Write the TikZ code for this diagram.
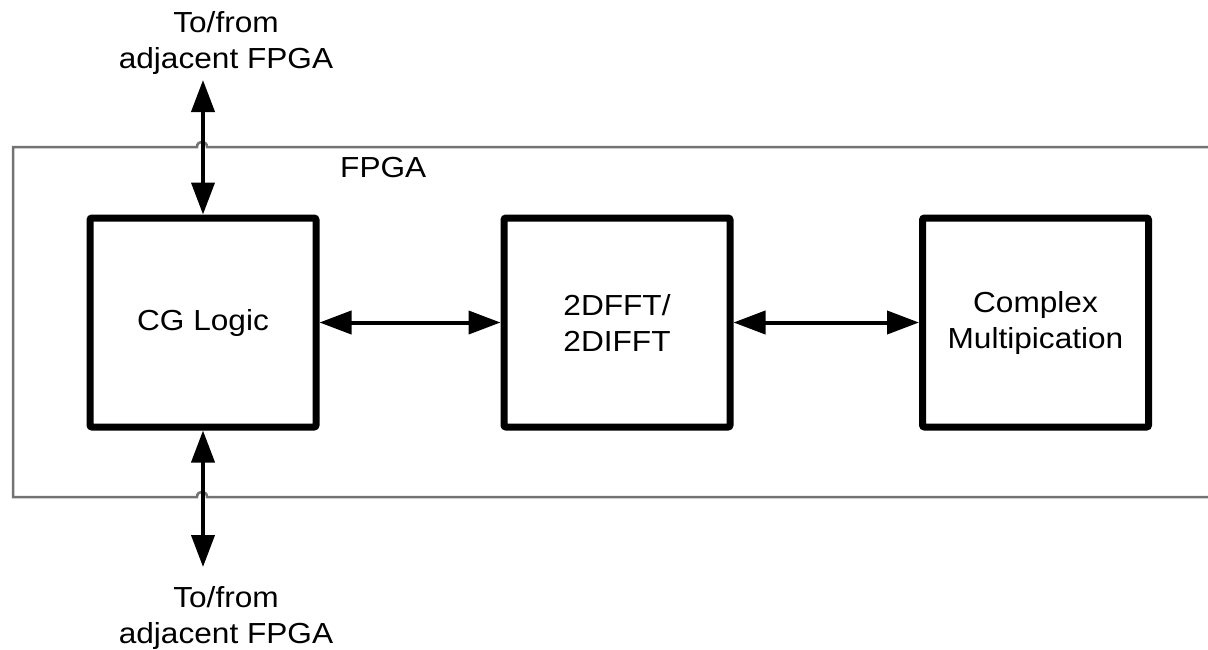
\documentclass[tikz,border=0pt]{standalone}
\usepackage{fontspec}
\setmainfont{Liberation Sans}[FakeStretch=1.09]
\usetikzlibrary{arrows.meta,positioning}

\tikzset{
  block/.style={draw, line width=7pt, rounded corners=2pt, minimum width=226pt,
    minimum height=209pt, align=center, inner sep=0pt},
  biarrow/.style={line width=4pt, {Triangle[length=32pt,width=23pt]}-{Triangle[length=32pt,width=23pt]}},
  border/.style={draw=black!55, line width=2.5pt},
  lbl/.style={align=center, inner sep=0pt}
}

\begin{document}
\begin{tikzpicture}[x=1pt,y=-1pt,font=\fontsize{29}{36}\selectfont]
  \useasboundingbox (0,0) rectangle (1208,649);
  % FPGA outline, open to the right, with hops where the links cross
  \draw[border] (1212,147) -- (207,147) .. controls (207,140) and (197,140) .. (197,147)
    -- (13,147) -- (13,497) -- (197,497) .. controls (197,490) and (207,490) .. (207,497)
    -- (1212,497);
  \node[lbl, anchor=base west] (fpga) at (340,177) {FPGA};

  \node[block] (cg) at (203,322.5) {CG Logic};
  \node[block] (fft) at (617,322.5) {2DFFT/\\2DIFFT};
  \node[block] (cmul) at (1035.5,322.5) {Complex\\Multipication};

  \coordinate (up) at (203,80);
  \coordinate (down) at (203,567);
  \draw[biarrow] (up) -- (cg.north);
  \draw[biarrow] (cg.south) -- (down);
  \draw[biarrow] (cg.east) -- (fft.west);
  \draw[biarrow] (fft.east) -- (cmul.west);

  \node[lbl, anchor=base] (toptxt) at (226,68) {To/from\\adjacent FPGA};
  \node[lbl, anchor=base] (bottxt) at (226,643) {To/from\\adjacent FPGA};
\end{tikzpicture}
\end{document}
